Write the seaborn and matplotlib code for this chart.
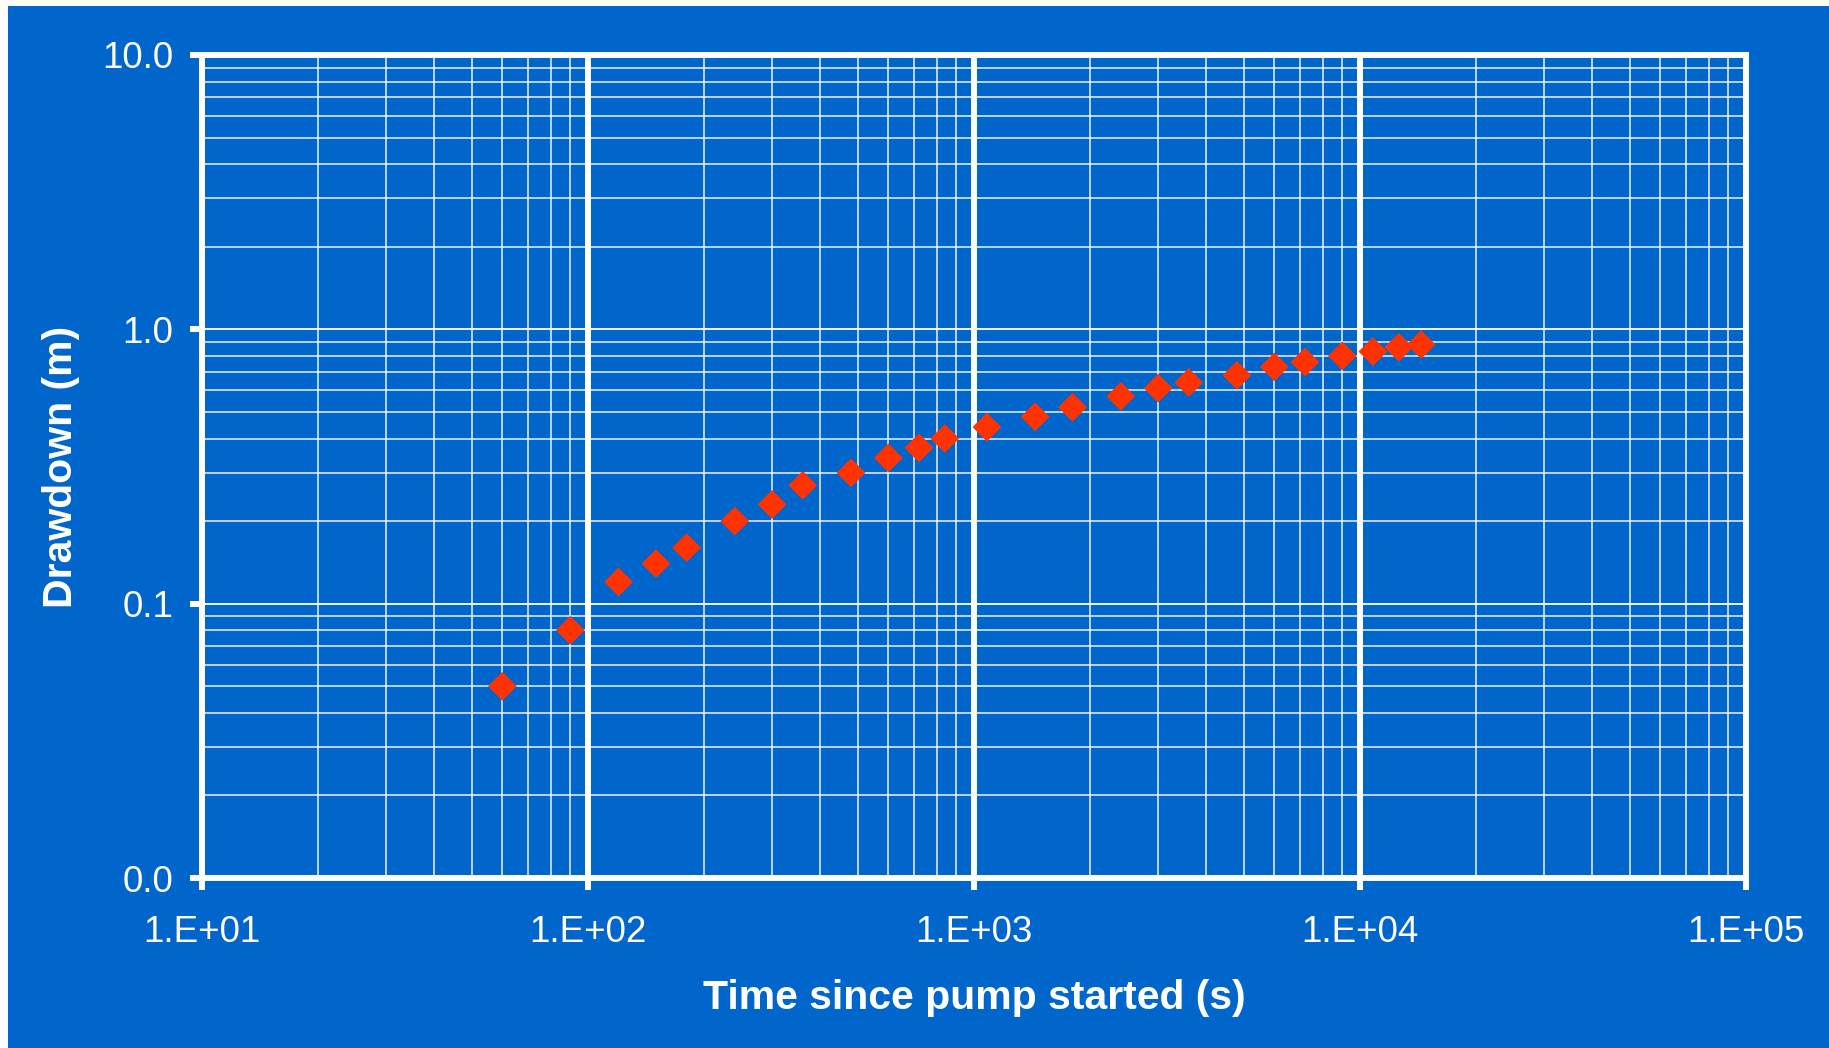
import numpy as np
import pandas as pd
import matplotlib
matplotlib.use("Agg")
import matplotlib.pyplot as plt
from matplotlib.patches import Rectangle
from matplotlib.ticker import LogLocator, FuncFormatter, NullFormatter, FixedLocator
import seaborn as sns

# ---- data ----
time_s = [60, 90, 120, 150, 180, 240, 300, 360, 480, 600, 720, 840,
          1080, 1440, 1800, 2400, 3000, 3600, 4800, 6000, 7200, 9000,
          10800, 12600, 14400]
drawdown_m = [0.05, 0.08, 0.12, 0.14, 0.16, 0.20, 0.23, 0.27, 0.30, 0.34,
              0.37, 0.40, 0.44, 0.48, 0.52, 0.57, 0.61, 0.64, 0.68, 0.73,
              0.76, 0.80, 0.83, 0.86, 0.88]
x_ticks = [1e1, 1e2, 1e3, 1e4, 1e5]
y_ticks = [0.01, 0.1, 1.0, 10.0]
x_label = "Time since pump started (s)"
y_label = "Drawdown (m)"

BLUE = "#0066CC"
RED = "#FF3300"
WHITE = "#FFFFFF"

sns.set_style("white")
plt.rcParams['font.family'] = ['Liberation Sans', 'DejaVu Sans']

df = pd.DataFrame({"t": time_s, "s": drawdown_m})

W, H = 1829, 1048
fig = plt.figure(figsize=(W / 100, H / 100), dpi=100)
fig.patch.set_facecolor(WHITE)
fig.patches.append(Rectangle((8 / W, 0), 1 - 8 / W, 1 - 6 / H,
                             transform=fig.transFigure, facecolor=BLUE,
                             edgecolor='none', zorder=-10))

left, right, top, bottom = 202 / W, 1746 / W, 1 - 55 / H, 1 - 878 / H
ax = fig.add_axes([left, bottom, right - left, top - bottom])
ax.set_facecolor(BLUE)

ax.set_xscale("log")
ax.set_yscale("log")

diamond = [(0, 1), (1, 0), (0, -1), (-1, 0), (0, 1)]
sns.scatterplot(data=df, x="t", y="s", ax=ax, marker=diamond, s=430,
                color=RED, edgecolor='none', linewidth=0, zorder=5,
                legend=False)

ax.set_xlim(1e1, 1e5)
ax.set_ylim(0.01, 10)

ax.xaxis.set_major_locator(FixedLocator(x_ticks))
ax.yaxis.set_major_locator(FixedLocator(y_ticks))
ax.xaxis.set_minor_locator(LogLocator(base=10, subs=np.arange(2, 10)))
ax.yaxis.set_minor_locator(LogLocator(base=10, subs=np.arange(2, 10)))
ax.xaxis.set_minor_formatter(NullFormatter())
ax.yaxis.set_minor_formatter(NullFormatter())
ax.xaxis.set_major_formatter(FuncFormatter(lambda v, p: f"1.E+{int(round(np.log10(v))):02d}"))
ax.yaxis.set_major_formatter(FuncFormatter(lambda v, p: f"{v:.1f}"))

# grid
ax.xaxis.grid(True, which='major', color=WHITE, linewidth=4.3, zorder=1)
ax.yaxis.grid(True, which='major', color=WHITE, linewidth=1.3, zorder=1)
ax.grid(True, which='minor', color=WHITE, linewidth=1.2, alpha=0.85, zorder=1)
ax.set_axisbelow(True)

for sp in ax.spines.values():
    sp.set_visible(True)
    sp.set_color(WHITE)
    sp.set_linewidth(4.3)
    sp.set_zorder(6)

ax.tick_params(which='major', direction='out', length=8.6, width=4.3,
               color=WHITE, labelcolor=WHITE, labelsize=26.5)
ax.tick_params(axis='x', which='major', pad=18, bottom=True, top=False)
ax.tick_params(axis='y', which='major', pad=12, left=True, right=False)
ax.tick_params(which='minor', length=0, width=0)

ax.set_xlabel(x_label, color=WHITE, fontsize=29.5, fontweight='bold', labelpad=21)
ax.set_ylabel(y_label, color=WHITE, fontsize=29.5, fontweight='bold', labelpad=16)

fig.savefig("out.png", dpi=100, facecolor=fig.get_facecolor())
